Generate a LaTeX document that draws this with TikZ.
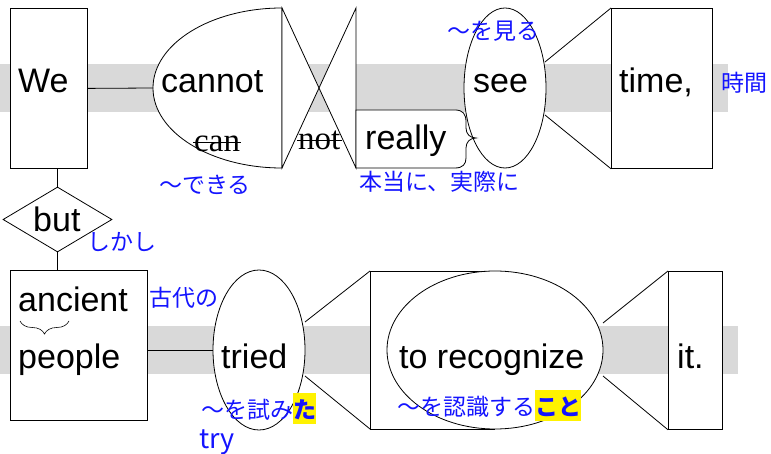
\documentclass[tikz,border=0pt]{standalone}
\usepackage{fontspec}
\setmainfont{Liberation Sans}
\newfontfamily\jp{Noto Sans CJK JP}
\newfontfamily\serifw{Liberation Serif}
\usetikzlibrary{shapes.geometric,decorations.pathreplacing}
\definecolor{bandgray}{RGB}{217,217,217}
\definecolor{jblue}{RGB}{20,20,255}
\newcommand{\hlbox}[1]{{\setlength{\fboxsep}{0pt}\colorbox{yellow}{\rule[-6pt]{0pt}{31pt}\bfseries #1}}}
\begin{document}
\begin{tikzpicture}[x=1pt,y=-1pt,
  ln/.style={line width=0.8pt, draw=black},
  shp/.style={ln, fill=white},
  wd/.style={font=\fontsize{34}{40}\selectfont, inner sep=0pt, anchor=base west},
  sw/.style={font=\serifw\fontsize{33}{40}\selectfont, inner sep=0pt, anchor=base west},
  jt/.style={font=\jp\fontsize{23}{27}\selectfont, text=jblue, inner sep=0pt, anchor=base west},
  strike/.style={line width=0.8pt},
]
\useasboundingbox (0,0) rectangle (771,454);
% bands
\fill[bandgray] (0,64) rectangle (728,112);
\fill[bandgray] (0,326) rectangle (738,374);

% ---------- top row ----------
\node[shp, minimum width=77pt, minimum height=160pt, anchor=north west, inner sep=0pt] (we) at (10,8) {};
\draw[shp] (282,8) arc[start angle=90,end angle=270,x radius=129pt,y radius=80pt] -- cycle;
\coordinate (cannotL) at (153,88);
\draw[ln] (we.east) -- (cannotL);

% not bowtie
\fill[white] (282,8) -- (319,88) -- (282,168) -- cycle;
\fill[white] (356,8) -- (319,88) -- (356,168) -- cycle;
\draw[ln] (282,8) -- (356,168) -- (356,8) -- (282,168) -- cycle;

% see ellipse
\node[shp, ellipse, minimum width=82pt, minimum height=160pt, inner sep=0pt] (see) at (505,88) {};

% really box with brace edge
\draw[shp] (356,110) -- (455,110) .. controls (463,110) and (466,114) .. (466,122) -- (466,128)
  .. controls (466,134) and (470,138) .. (476,138)
  .. controls (470,138) and (466,142) .. (466,148) -- (466,158)
  .. controls (466,164) and (463,168) .. (455,168) -- (356,168) -- cycle;

% trapezoid see -> time
\node[shp, minimum width=101pt, minimum height=160pt, anchor=north west, inner sep=0pt] (time) at (611,8) {};
\draw[ln] (545,62) -- (time.north west);
\draw[ln] (545,115) -- (time.south west);

% ---------- bottom row ----------
\node[shp, diamond, minimum width=109pt, minimum height=65pt, inner sep=0pt] (but) at (57.5,219.5) {};
\node[shp, minimum width=137pt, minimum height=150pt, anchor=north west, inner sep=0pt] (ap) at (10,270) {};
\draw[ln] (but.north |- we.south) -- (but.north);
\draw[ln] (but.south) -- (but.south |- ap.north);

\node[shp, ellipse, minimum width=92pt, minimum height=160pt, inner sep=0pt] (tried) at (259,350) {};
\draw[ln] (ap.east |- tried.west) -- (tried.west);

% recognize shape
\draw[shp] (495,271) -- (370,271) -- (370,429) -- (495,429);
\node[shp, ellipse, minimum width=216pt, minimum height=158pt, inner sep=0pt] (rec) at (495,350) {};
\draw[ln] (305,322) -- (370,271);
\draw[ln] (305,376) -- (370,429);

\node[shp, minimum width=54pt, minimum height=158pt, anchor=north west, inner sep=0pt] (it) at (668,271) {};
\draw[ln] (603,323) -- (it.north west);
\draw[ln] (603,376) -- (it.south west);

% ---------- words ----------
\node[wd] (tWe) at (18,93) {We};
\node[wd] (tcannot) at (161,93) {cannot};
\node[sw] (tcan) at (194,152) {can};
\draw[strike] ([xshift=-1pt,yshift=9.5pt]tcan.base west) -- ([xshift=1pt,yshift=9.5pt]tcan.base east);
\node[sw] (tnot) at (298,150) {not};
\draw[strike] ([xshift=-1pt,yshift=9.5pt]tnot.base west) -- ([xshift=1pt,yshift=9.5pt]tnot.base east);
\node[wd] (treally) at (365,150) {really};
\node[wd] (tsee) at (473,93) {see};
\node[wd] (ttime) at (619,93) {time,};
\node[wd] (tbut) at (33,232) {but};
\node[wd] (tanc) at (18,312) {ancient};
\draw[line width=0.6pt, decorate, decoration={brace, mirror, amplitude=13pt}] (20,321) -- (69,321);
\node[wd] (tpeople) at (18,368) {people};
\node[wd] (ttried) at (221,368) {tried};
\node[wd] (trec) at (399,368) {to recognize};
\node[wd] (tit) at (677,368) {it.};

% ---------- glosses ----------
\node[jt] (g1) at (159,194) {〜できる};
\node[jt] (g2) at (359,191) {本当に、実際に};
\node[jt] (g3) at (447,40) {〜を見る};
\node[jt] (g4) at (721,92) {時間};
\node[jt] (g5) at (87,250.5) {しかし};
\node[jt] (g6) at (149,306) {古代の};
\node[jt] (g7) at (201,418) {〜を試み\hlbox{た}};
\node[jt, font=\jp\fontsize{27}{30}\selectfont] (g8) at (199,448) {try};
\node[jt] (g9) at (397,415) {〜を認識する\hlbox{こと}};
\end{tikzpicture}
\end{document}
